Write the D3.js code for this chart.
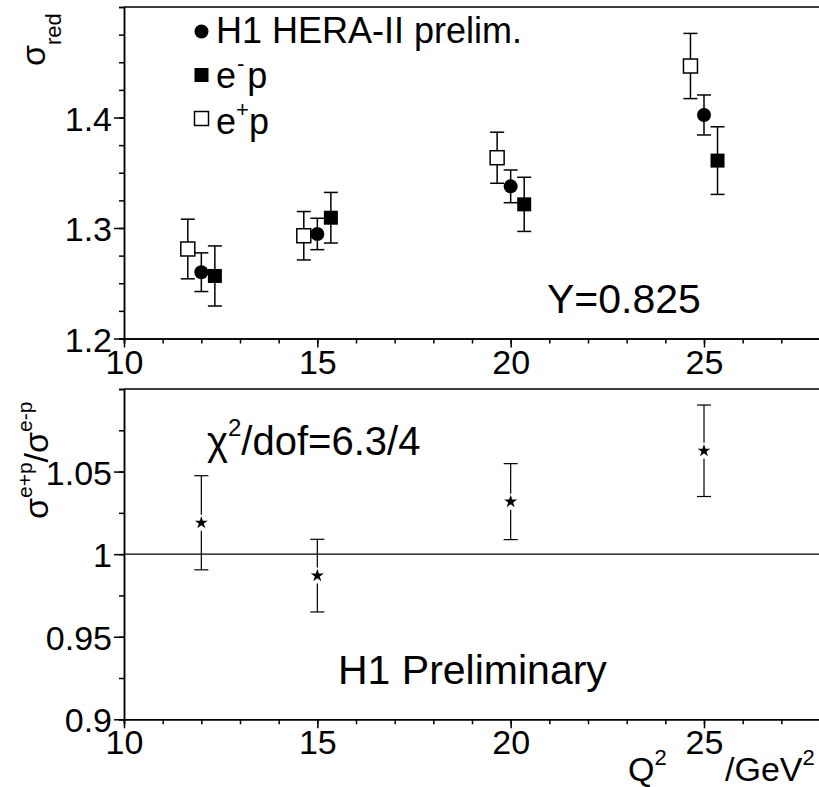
<!DOCTYPE html>
<html>
<head>
<meta charset="utf-8">
<script src="https://cdn.jsdelivr.net/npm/d3@7"></script>
<style>
body { margin: 0; background: #fff; }
svg text { font-family: "Liberation Sans", Arial, sans-serif; fill: #000; }
</style>
</head>
<body>
<div id="chart"></div>
<script>
// Q2 bins and measured reduced cross sections at y = 0.825
var q2 = [12, 15, 20, 25];
var h1 = [1.260, 1.2946, 1.3377, 1.4023];
var h1Err = [0.0175, 0.0142, 0.0148, 0.0181];
var emp = [1.2566, 1.3093, 1.3214, 1.361];
var empErr = [0.0272, 0.0229, 0.0245, 0.0306];
var epp = [1.281, 1.293, 1.3636, 1.4466];
var eppErr = [0.027, 0.0219, 0.0231, 0.0295];
var ratio = [1.019, 0.987, 1.0318, 1.0626];
var ratioErr = [0.0285, 0.022, 0.023, 0.0277];

var xTicks = [10, 15, 20, 25];
var topTicks = [1.2, 1.3, 1.4];
var botTicks = [0.9, 0.95, 1, 1.05];
var shift = 0.35; // e+p drawn left, e-p right of the bin centre

var width = 819, height = 787;
var svg = d3.select("#chart").append("svg")
    .attr("width", width)
    .attr("height", height);

var x = d3.scaleLinear().domain([10, 28]).range([124, 820]);
var yTop = d3.scaleLinear().domain([1.2, 1.5]).range([338.5, 7]);
var yBot = d3.scaleLinear().domain([0.9, 1.1]).range([719.3, 389]);

function drawAxes(y, yMajor, yMinor, bottom, top) {
    var g = svg.append("g");
    // minor ticks
    g.append("g")
        .attr("transform", "translate(0," + bottom + ")")
        .call(d3.axisBottom(x).tickValues(d3.range(10, 28.01, 1)).tickSize(5).tickFormat(""));
    g.append("g")
        .attr("transform", "translate(124,0)")
        .call(d3.axisLeft(y).tickValues(yMinor).tickSize(5).tickFormat(""));
    // major ticks + labels
    var xa = g.append("g")
        .attr("transform", "translate(0," + bottom + ")")
        .call(d3.axisBottom(x).tickValues(xTicks).tickSize(9).tickSizeOuter(0).tickPadding(2).tickFormat(d3.format("d")));
    var ya = g.append("g")
        .attr("transform", "translate(124,0)")
        .call(d3.axisLeft(y).tickValues(yMajor).tickSize(10).tickSizeOuter(0).tickPadding(2).tickFormat(function(d) { return String(d); }));
    g.selectAll("text").attr("font-size", 34).attr("font-family", null).attr("fill", "#000");
    ya.selectAll("text").attr("dy", "0.37em");
    g.selectAll("path, line").attr("stroke", "#000").attr("stroke-width", 1.5);
    // frame top line
    g.append("line")
        .attr("x1", x(10)).attr("x2", x(28))
        .attr("y1", top).attr("y2", top)
        .attr("stroke", "#000").attr("stroke-width", 1.5);
}

drawAxes(yTop, topTicks, d3.range(1.2, 1.5001, 0.025), 338.5, 7);
drawAxes(yBot, botTicks, d3.range(0.9, 1.1001, 0.025), 719.3, 389);

// ---- top panel points
function errBars(g, xs, vals, errs, y) {
    g.selectAll(null).data(vals).enter().append("line")
        .attr("x1", function(d, i) { return x(xs[i]); })
        .attr("x2", function(d, i) { return x(xs[i]); })
        .attr("y1", function(d, i) { return y(d + errs[i]); })
        .attr("y2", function(d, i) { return y(d - errs[i]); })
        .attr("stroke", "#000").attr("stroke-width", 1.5);
    [1, -1].forEach(function(s) {
        g.selectAll(null).data(vals).enter().append("line")
            .attr("x1", function(d, i) { return x(xs[i]) - 7; })
            .attr("x2", function(d, i) { return x(xs[i]) + 7; })
            .attr("y1", function(d, i) { return y(d + s * errs[i]); })
            .attr("y2", function(d, i) { return y(d + s * errs[i]); })
            .attr("stroke", "#000").attr("stroke-width", 1.5);
    });
}

var pts = svg.append("g");
var xPlus = q2.map(function(d) { return d - shift; });
var xMinus = q2.map(function(d) { return d + shift; });

errBars(pts, xPlus, epp, eppErr, yTop);
pts.selectAll(".epp").data(epp).enter().append("rect")
    .attr("x", function(d, i) { return x(xPlus[i]) - 7; })
    .attr("y", function(d) { return yTop(d) - 7; })
    .attr("width", 14).attr("height", 14)
    .attr("fill", "#fff").attr("stroke", "#000").attr("stroke-width", 1.5);

errBars(pts, q2, h1, h1Err, yTop);
pts.selectAll(".h1").data(h1).enter().append("circle")
    .attr("cx", function(d, i) { return x(q2[i]); })
    .attr("cy", function(d) { return yTop(d); })
    .attr("r", 7).attr("fill", "#000");

errBars(pts, xMinus, emp, empErr, yTop);
pts.selectAll(".emp").data(emp).enter().append("rect")
    .attr("x", function(d, i) { return x(xMinus[i]) - 7; })
    .attr("y", function(d) { return yTop(d) - 7; })
    .attr("width", 14).attr("height", 14)
    .attr("fill", "#000");

// ---- bottom panel: ratio
svg.append("line")
    .attr("x1", x(10)).attr("x2", x(28))
    .attr("y1", yBot(1)).attr("y2", yBot(1))
    .attr("stroke", "#000").attr("stroke-width", 1.2);

var rg = svg.append("g");
rg.selectAll(".up").data(ratio).enter().append("line")
    .attr("x1", function(d, i) { return x(q2[i]); })
    .attr("x2", function(d, i) { return x(q2[i]); })
    .attr("y1", function(d, i) { return yBot(d + ratioErr[i]); })
    .attr("y2", function(d) { return yBot(d) - 8; })
    .attr("stroke", "#000").attr("stroke-width", 1.2);
rg.selectAll(".dn").data(ratio).enter().append("line")
    .attr("x1", function(d, i) { return x(q2[i]); })
    .attr("x2", function(d, i) { return x(q2[i]); })
    .attr("y1", function(d) { return yBot(d) + 8; })
    .attr("y2", function(d, i) { return yBot(d - ratioErr[i]); })
    .attr("stroke", "#000").attr("stroke-width", 1.2);
[1, -1].forEach(function(s) {
    rg.selectAll(null).data(ratio).enter().append("line")
        .attr("x1", function(d, i) { return x(q2[i]) - 7; })
        .attr("x2", function(d, i) { return x(q2[i]) + 7; })
        .attr("y1", function(d, i) { return yBot(d + s * ratioErr[i]); })
        .attr("y2", function(d, i) { return yBot(d + s * ratioErr[i]); })
        .attr("stroke", "#000").attr("stroke-width", 1.2);
});
rg.selectAll(".star").data(ratio).enter().append("path")
    .attr("d", d3.symbol(d3.symbolStar, 52))
    .attr("transform", function(d, i) { return "translate(" + x(q2[i]) + "," + yBot(d) + ")"; })
    .attr("fill", "#000");

// ---- legend
var lg = svg.append("g");
lg.append("circle").attr("cx", 201.5).attr("cy", 31.5).attr("r", 7).attr("fill", "#000");
lg.append("rect").attr("x", 194.5).attr("y", 68).attr("width", 14).attr("height", 14).attr("fill", "#000");
lg.append("rect").attr("x", 194.5).attr("y", 111.5).attr("width", 14).attr("height", 14)
    .attr("fill", "#fff").attr("stroke", "#000").attr("stroke-width", 1.5);
lg.append("text").attr("x", 216).attr("y", 43).attr("font-size", 36).text("H1 HERA-II prelim.");
var t1 = lg.append("text").attr("x", 216).attr("y", 88).attr("font-size", 36);
t1.append("tspan").text("e");
t1.append("tspan").attr("font-size", 22).attr("dy", -17).attr("dx", 1).text("-");
t1.append("tspan").attr("dy", 17).attr("dx", 3).text("p");
var t2 = lg.append("text").attr("x", 216).attr("y", 134).attr("font-size", 36);
t2.append("tspan").text("e");
t2.append("tspan").attr("font-size", 22).attr("dy", -17).text("+");
t2.append("tspan").attr("dy", 17).text("p");

// ---- annotations
svg.append("text").attr("x", 547).attr("y", 313).attr("font-size", 41).text("Y=0.825");
svg.append("text").attr("x", 338).attr("y", 684).attr("font-size", 41).text("H1 Preliminary");
var chi = svg.append("text").attr("x", 207).attr("y", 455).attr("font-size", 40);
chi.append("tspan").text("\u03c7");
chi.append("tspan").attr("font-size", 24).attr("dy", -19).text("2");
chi.append("tspan").attr("dy", 19).text("/dof=6.3/4");

// axis titles
var q = svg.append("text").attr("x", 628).attr("y", 781).attr("font-size", 34);
q.append("tspan").text("Q");
q.append("tspan").attr("font-size", 22).attr("dy", -16).text("2");
var gev = svg.append("text").attr("x", 725).attr("y", 781).attr("font-size", 34);
gev.append("tspan").text("/GeV");
gev.append("tspan").attr("font-size", 22).attr("dy", -16).text("2");

var sr = svg.append("text").attr("transform", "translate(45,66) rotate(-90)").attr("font-size", 34);
sr.append("tspan").text("\u03c3");
sr.append("tspan").attr("font-size", 22).attr("dy", 16).text("red");

var sb = svg.append("text").attr("transform", "translate(48,519) rotate(-90)").attr("font-size", 34);
sb.append("tspan").text("\u03c3");
sb.append("tspan").attr("font-size", 21).attr("dy", -16).text("e+p");
sb.append("tspan").attr("dy", 16).text("/\u03c3");
sb.append("tspan").attr("font-size", 21).attr("dy", -16).text("e-p");
</script>
</body>
</html>
